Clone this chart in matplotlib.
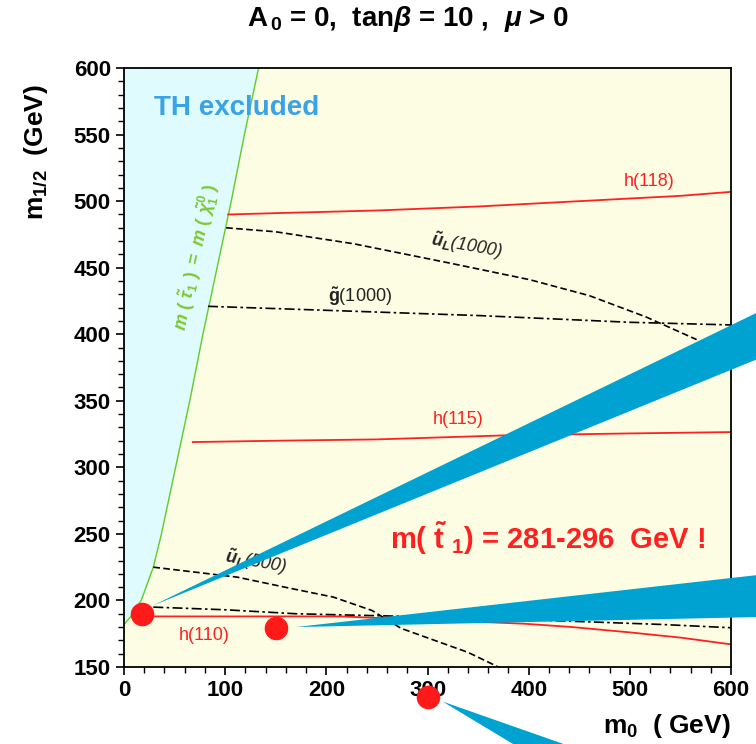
import matplotlib
matplotlib.use('Agg')
from matplotlib import pyplot as plt
from matplotlib.patches import Polygon
from matplotlib.ticker import MultipleLocator

plt.rcParams['font.family'] = ['Liberation Sans', 'DejaVu Sans']
plt.rcParams['mathtext.fontset'] = 'custom'
plt.rcParams['mathtext.rm'] = 'Liberation Sans:bold'
plt.rcParams['mathtext.it'] = 'Liberation Sans:italic:bold'
plt.rcParams['mathtext.bf'] = 'Liberation Sans:bold'

# stau = neutralino boundary (m0, m1/2)
stau_m0 = [0, 8, 17, 29, 37, 51, 65, 78, 92, 106, 119, 133]
stau_m12 = [182, 189, 200, 225, 250, 300, 350, 400, 450, 500, 550, 600]

# Higgs mass contours
h118_m0 = [103, 150, 250, 350, 450, 550, 600]
h118_m12 = [490, 491, 493, 496, 500, 504, 507]
h115_m0 = [68, 150, 250, 375, 500, 600]
h115_m12 = [319, 320, 321, 324, 325.5, 326.5]
h110_m0 = [10, 100, 215, 245, 300, 396, 443, 500, 551, 600]
h110_m12 = [188, 188, 188, 187, 185.5, 182.5, 180, 176, 172, 167]

# squark / gluino contours
uL1000_m0 = [101, 150, 227, 325, 401, 460, 516, 566]
uL1000_m12 = [480, 477, 468, 453, 441, 429, 413, 396]
g1000_m0 = [83, 200, 352, 411, 500, 600]
g1000_m12 = [421, 418, 414, 412, 409, 407]
uL500_m0 = [29, 112, 162, 207, 245, 274, 307, 340, 370]
uL500_m12 = [225, 217.5, 209.5, 202.5, 192.5, 179, 170, 161, 150]
g500_m0 = [29, 100, 170, 280, 380, 456, 530, 600]
g500_m12 = [195, 193, 190, 188, 186, 184, 182, 179.5]

# best fit points and fan wedges
dots_m0 = [18, 150, 300]
dots_m12 = [190, 179.5, 127.5]
wedge1 = [(28, 196), (625, 416), (625, 381)]
wedge2 = [(170, 180), (625, 219), (625, 187.5)]
wedge3 = [(315, 124), (480, 80), (411, 80)]

red = '#ff2020'
blue = '#00a2d2'

fig = plt.figure(figsize=(7.56, 7.44), dpi=100)
ax = fig.add_axes([0.164, 0.1035, 0.803, 0.805])
ax.set_facecolor('#fdfde4')
ax.set_xlim(0, 600)
ax.set_ylim(150, 600)

ax.fill_betweenx(stau_m12 + [600], 0, stau_m0 + [133], color='#e0fbfd', zorder=1)
ax.plot(stau_m0, stau_m12, color='#66cc22', lw=1.0, zorder=2)

ax.plot(h118_m0, h118_m12, color=red, lw=1.3, zorder=2)
ax.plot(h115_m0, h115_m12, color=red, lw=1.3, zorder=2)
ax.plot(h110_m0, h110_m12, color=red, lw=1.3, zorder=2)
ax.plot(uL1000_m0, uL1000_m12, color='black', lw=1.2, ls=(0, (4, 2)), zorder=2)
ax.plot(g1000_m0, g1000_m12, color='black', lw=1.2, ls=(0, (6, 2, 1.5, 2)), zorder=2)
ax.plot(uL500_m0, uL500_m12, color='black', lw=1.2, ls=(0, (4, 2)), zorder=2)
ax.plot(g500_m0, g500_m12, color='black', lw=1.2, ls=(0, (6, 2, 1.5, 2)), zorder=2)

ax.text(519, 515, 'h(118)', color=red, fontsize=13, ha='center', va='center')
ax.text(330, 336, 'h(115)', color=red, fontsize=13, ha='center', va='center')
ax.text(79, 174, 'h(110)', color=red, fontsize=13, ha='center', va='center')
ax.text(339, 466, r'$\tilde{u}_L$(1000)', color='#222222', fontsize=13, style='italic',
        rotation=-10, ha='center', va='center')
ax.text(233, 428, r'$\tilde{\mathbf{g}}$(1000)', color='#222222', fontsize=13,
        ha='center', va='center')
ax.text(130, 229, r'$\tilde{u}_L$(500)', color='#222222', fontsize=13, style='italic',
        rotation=-10, ha='center', va='center')
ax.text(71, 458, r'$m\ (\ \tilde{\tau}_1\ )\ =\ m\ (\ \tilde{\chi}^0_1\ )$', color='#7cc832',
        fontsize=13, rotation=78, ha='center', va='center')
ax.text(111, 570, 'TH excluded', color='#3aa2e6', fontsize=20, fontweight='bold',
        ha='center', va='center')
ax.text(263, 247, r'm( $\tilde{\mathrm{t}}$ $_1$) = 281-296  GeV !', color=red,
        fontsize=21, fontweight='bold', ha='left', va='center')

for w in [wedge1, wedge2, wedge3]:
    ax.add_patch(Polygon(w, closed=True, facecolor=blue, edgecolor='none',
                         zorder=4, clip_on=False))
ax.plot(dots_m0, dots_m12, 'o', color='#ff1a1a', ms=17, mec='none',
        zorder=5, clip_on=False)

ax.xaxis.set_major_locator(MultipleLocator(100))
ax.xaxis.set_minor_locator(MultipleLocator(20))
ax.yaxis.set_major_locator(MultipleLocator(50))
ax.yaxis.set_minor_locator(MultipleLocator(10))
ax.tick_params(which='major', length=6, width=1.2, labelsize=16, direction='out')
ax.tick_params(which='minor', length=4, width=1.0, direction='out')
for lab in ax.get_xticklabels() + ax.get_yticklabels():
    lab.set_fontweight('bold')
for sp in ax.spines.values():
    sp.set_linewidth(1.3)

ax.set_ylabel(r'm$_{1/2}$  (GeV)', fontsize=19, fontweight='bold')
ax.yaxis.set_label_coords(-0.122, 0.86)
fig.text(0.966, 0.024, r'm$_0$  ( GeV)', fontsize=19, fontweight='bold',
         ha='right', va='center')
fig.text(0.54, 0.975, r'A$_{\,0}$ = 0,  tan$\beta$ = 10 ,  $\mu$ > 0', fontsize=20,
         fontweight='bold', ha='center', va='center')

fig.savefig('out.png', dpi=100)
